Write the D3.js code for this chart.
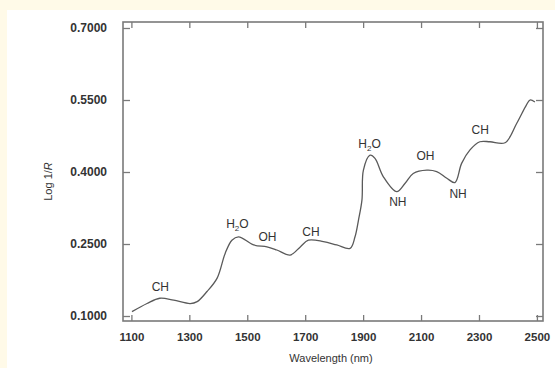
<!DOCTYPE html>
<html>
<head>
<meta charset="utf-8">
<script src="https://cdn.jsdelivr.net/npm/d3@7"></script>
<style>
  body { margin: 0; background: #fffae8; }
  #chart { position: absolute; left: 7px; top: 10px; width: 548px; height: 358px; background: #fff; }
  text { font-family: "Liberation Sans", Arial, sans-serif; fill: #333; }
</style>
</head>
<body>
<div id="chart"></div>
<script>
// spectrum
const wavelength = [1102, 1154, 1198, 1246, 1303, 1327, 1361, 1396, 1424, 1447, 1470, 1522, 1568, 1602, 1648, 1683, 1711, 1763, 1809, 1855, 1872, 1884, 1896, 1901, 1924, 1941, 1970, 2016, 2045, 2073, 2120, 2154, 2189, 2217, 2240, 2269, 2303, 2338, 2390, 2430, 2464, 2476, 2493];
const logR = [0.109, 0.126, 0.137, 0.133, 0.126, 0.130, 0.151, 0.179, 0.231, 0.258, 0.265, 0.248, 0.244, 0.2375, 0.227, 0.244, 0.258, 0.255, 0.248, 0.241, 0.265, 0.300, 0.342, 0.404, 0.435, 0.4285, 0.390, 0.359, 0.3765, 0.397, 0.404, 0.401, 0.387, 0.378, 0.418, 0.446, 0.463, 0.463, 0.461, 0.501, 0.540, 0.550, 0.546];

const xTicks = [1100, 1300, 1500, 1700, 1900, 2100, 2300, 2500];
const yTicks = [0.1, 0.25, 0.4, 0.55, 0.7];

// band labels
const bandNames = ["CH", "H2O", "OH", "CH", "H2O", "NH", "OH", "NH", "CH"];
const bandX = [1200, 1466, 1570, 1720, 1922, 2020, 2115, 2228, 2304];
const bandY = [0.152, 0.284, 0.256, 0.266, 0.451, 0.33, 0.424, 0.345, 0.48];

const W = 548, H = 358;
const svg = d3.select("#chart").append("svg")
    .attr("width", W).attr("height", H);

// frame: x 116..536, y 12..311 (inside the white panel)
const x = d3.scaleLinear().domain([1071, 2521]).range([116, 536]);
const y = d3.scaleLinear().domain([0.0896, 0.7125]).range([311, 12]);

const data = wavelength.map((w, i) => ({ w: w, v: logR[i] }));

const grey = "#7a7a7a";

// ticks pointing inward on all four sides
svg.append("g")
    .attr("transform", `translate(0,${y.range()[0]})`)
    .call(d3.axisBottom(x).tickValues(xTicks).tickSizeInner(-6).tickSizeOuter(0).tickPadding(12).tickFormat(d3.format("d")))
    .call(g => g.select(".domain").remove())
    .call(g => g.selectAll("line").attr("stroke", grey).attr("stroke-width", 1.3))
    .call(g => g.selectAll("text").attr("fill", "#444").style("font-size", "11.5px").style("font-weight", "bold"));

svg.append("g")
    .attr("transform", `translate(0,${y.range()[1]})`)
    .call(d3.axisTop(x).tickValues(xTicks).tickSizeInner(-6).tickSizeOuter(0).tickFormat(""))
    .call(g => g.select(".domain").remove())
    .call(g => g.selectAll("line").attr("stroke", grey).attr("stroke-width", 1.3));

svg.append("g")
    .attr("transform", `translate(${x.range()[0]},0)`)
    .call(d3.axisLeft(y).tickValues(yTicks).tickSizeInner(-7).tickSizeOuter(0).tickPadding(16).tickFormat(d3.format(".4f")))
    .call(g => g.select(".domain").remove())
    .call(g => g.selectAll("line").attr("stroke", grey).attr("stroke-width", 1.3))
    .call(g => g.selectAll("text").attr("fill", "#444").style("font-size", "12px").style("font-weight", "bold"));

svg.append("g")
    .attr("transform", `translate(${x.range()[1]},0)`)
    .call(d3.axisRight(y).tickValues(yTicks).tickSizeInner(-7).tickSizeOuter(0).tickFormat(""))
    .call(g => g.select(".domain").remove())
    .call(g => g.selectAll("line").attr("stroke", grey).attr("stroke-width", 1.3));

svg.append("rect")
    .attr("x", x.range()[0]).attr("y", y.range()[1])
    .attr("width", x.range()[1] - x.range()[0])
    .attr("height", y.range()[0] - y.range()[1])
    .attr("fill", "none").attr("stroke", grey).attr("stroke-width", 1.6);

// spectrum
const line = d3.line()
    .x(d => x(d.w))
    .y(d => y(d.v))
    .curve(d3.curveCatmullRom.alpha(0.5));

svg.append("path")
    .datum(data)
    .attr("fill", "none")
    .attr("stroke", "#5a5a5a")
    .attr("stroke-width", 1.3)
    .attr("d", line);

// band labels, H2O gets a subscript 2
bandNames.forEach((name, i) => {
    const t = svg.append("text")
        .attr("x", x(bandX[i]))
        .attr("y", y(bandY[i]))
        .attr("text-anchor", "middle")
        .style("font-size", "12px")
        .attr("fill", "#333");
    if (name === "H2O") {
        t.append("tspan").text("H");
        t.append("tspan").text("2").attr("dy", 3).style("font-size", "8px");
        t.append("tspan").text("O").attr("dy", -3);
    } else {
        t.text(name);
    }
});

// axis titles
svg.append("text")
    .attr("x", (x.range()[0] + x.range()[1]) / 2 - 2)
    .attr("y", 352)
    .attr("text-anchor", "middle")
    .style("font-size", "11px")
    .text("Wavelength (nm)");

const yl = svg.append("text")
    .attr("transform", `translate(45,${(y.range()[0] + y.range()[1]) / 2 + 10}) rotate(-90)`)
    .attr("text-anchor", "middle")
    .style("font-size", "11px");
yl.append("tspan").text("Log 1/");
yl.append("tspan").text("R").style("font-style", "italic");
</script>
</body>
</html>
